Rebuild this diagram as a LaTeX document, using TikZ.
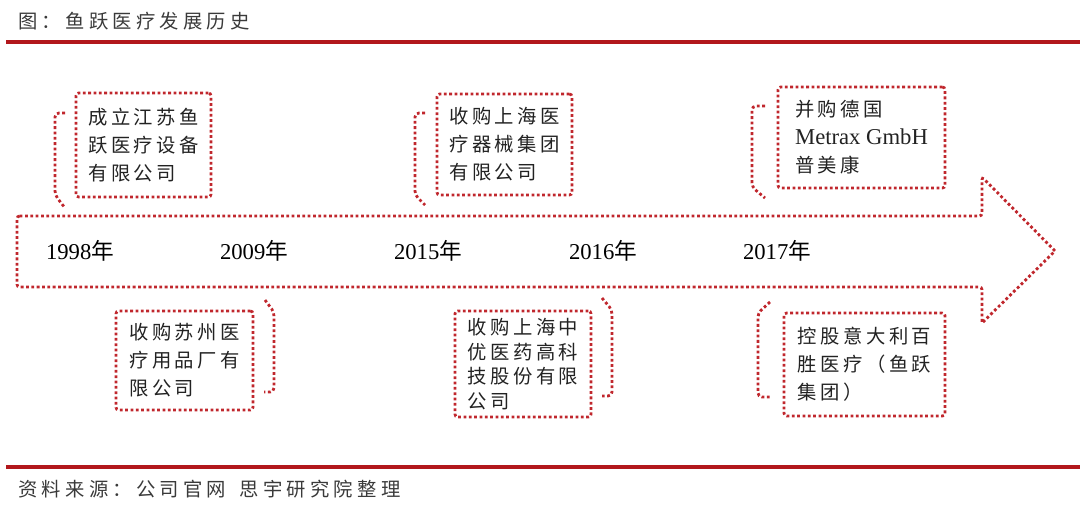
\documentclass[tikz,border=0pt]{standalone}
\usepackage{fontspec}
\setmainfont{Liberation Serif}
\newfontfamily\cjk[LetterSpace=18]{Noto Sans CJK SC}
\newfontfamily\cjkcap[LetterSpace=22]{Noto Sans CJK SC}
\newfontfamily\cjkplain{Noto Sans CJK SC}
\usetikzlibrary{positioning}
\definecolor{dotred}{HTML}{C0272D}
\definecolor{rulered}{HTML}{B2171C}
\definecolor{textgray}{HTML}{222222}
\definecolor{capgray}{HTML}{3A3A3A}

\begin{document}
\begin{tikzpicture}[
  x=0.75pt, y=-0.75pt,
  dotline/.style={draw=dotred, line width=2.1pt, dash pattern=on 2.1pt off 1.9pt},
  evbox/.style={
    dotline, rounded corners=2pt, inner sep=0pt, align=left,
    font=\cjk\fontsize{14.5}{21}\selectfont, text=textgray,
  },
  yearL/.style={font=\fontsize{17}{20}\selectfont, text=black},
  capT/.style={font=\cjkcap\fontsize{14.5}{16}\selectfont, text=capgray, anchor=west, inner sep=0pt},
]
\useasboundingbox (0,0) rectangle (1080,511);

% Title and rules
\node[capT] (title) at (18,21) {图：鱼跃医疗发展历史};
\fill[rulered] (6,40) rectangle (1080,43.5);
\fill[rulered] (6,465) rectangle (1080,469);
\node[capT] (source) at (18,489) {资料来源：公司官网\hspace{10pt}思宇研究院整理};

% Timeline arrow
\draw[dotline, rounded corners=2pt] (17,216) -- (982,216) -- (982,177) [sharp corners] -- (1055,251)
  -- (982,323) [rounded corners=2pt] -- (982,287) -- (17,287) -- cycle;

% Years
\node[yearL] (y1998) at (80,251) {1998{\cjkplain 年}};
\node[yearL] (y2009) at (254,251) {2009{\cjkplain 年}};
\node[yearL] (y2015) at (428,251) {2015{\cjkplain 年}};
\node[yearL] (y2016) at (603,251) {2016{\cjkplain 年}};
\node[yearL] (y2017) at (777,251) {2017{\cjkplain 年}};

% Events above
\node[evbox, minimum width=101.25pt, minimum height=78pt] (e1998) at (143.5,145)
  {成立江苏鱼\\跃医疗设备\\有限公司};
\node[evbox, minimum width=101.25pt, minimum height=75.75pt] (e2015) at (504.5,144.5)
  {收购上海医\\疗器械集团\\有限公司};
\node[evbox, minimum width=125.25pt, minimum height=75.75pt] (e2017a) at (861.5,137.5)
  {并购德国\\{\rmfamily\fontsize{17}{21}\selectfont Metrax GmbH}\\普美康};

% Events below
\node[evbox, minimum width=102.75pt, minimum height=74.25pt] (e2009) at (184.5,360.5)
  {收购苏州医\\疗用品厂有\\限公司};
\node[evbox, minimum width=102pt, minimum height=79.5pt, font=\cjk\fontsize{14.5}{18.5}\selectfont] (e2016) at (523,364)
  {收购上海中\\优医药高科\\技股份有限\\公司};
\node[evbox, minimum width=120.75pt, minimum height=77.25pt] (e2017b) at (864.5,364.5)
  {控股意大利百\\胜医疗（鱼跃\\集团）};

% Brackets
\draw[dotline, rounded corners=3pt] (65,113) -- (55,113) -- (55,195) -- (65,208);
\draw[dotline, rounded corners=3pt] (425,113) -- (415,113) -- (415,195) -- (425,205);
\draw[dotline, rounded corners=3pt] (765,106) -- (752,106) -- (752,187) -- (765,198);
\draw[dotline, rounded corners=3pt] (265,300) -- (274,312) -- (274,392) -- (264,392);
\draw[dotline, rounded corners=3pt] (602,298) -- (612,310) -- (612,396) -- (602,396);
\draw[dotline, rounded corners=3pt] (770,302) -- (758,313) -- (758,397) -- (770,397);

\end{tikzpicture}
\end{document}
